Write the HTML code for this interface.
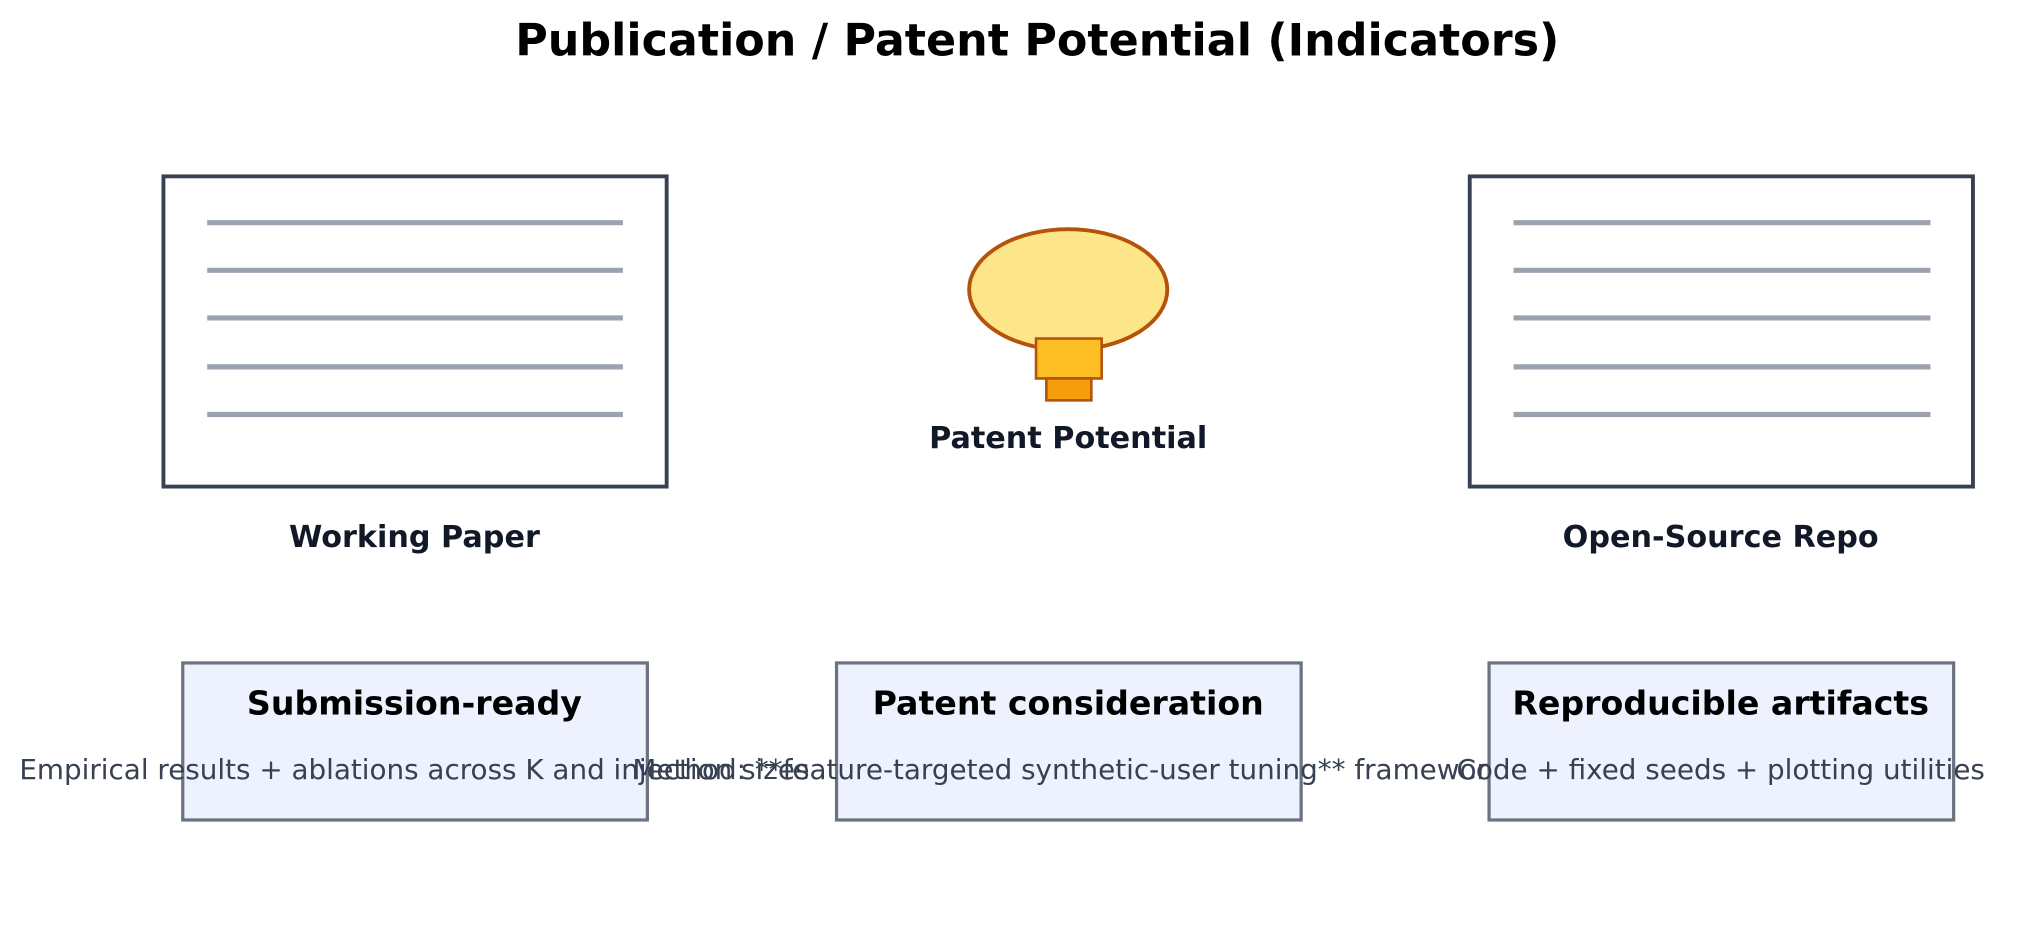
<!DOCTYPE html>
<html><head><meta charset="utf-8"><style>
html,body{margin:0;padding:0;background:#fff;}
svg{display:block;font-family:"DejaVu Sans","Liberation Sans",sans-serif;}
</style></head><body>
<svg width="2018" height="950" viewBox="0 0 1568 738" preserveAspectRatio="none">
<rect width="1568" height="738" fill="#fff"/>
<text x="806" y="43" text-anchor="middle" font-size="34.5" font-weight="bold" fill="#000">Publication / Patent Potential (Indicators)</text>

<g>
<rect x="127" y="137" width="391" height="241" fill="#fff" stroke="#374151" stroke-width="3"/>
<g stroke="#9ca3af" stroke-width="4">
<line x1="161" x2="484" y1="173" y2="173"/><line x1="161" x2="484" y1="210" y2="210"/><line x1="161" x2="484" y1="247" y2="247"/><line x1="161" x2="484" y1="285" y2="285"/><line x1="161" x2="484" y1="322" y2="322"/>
</g></g>
<text x="322" y="425" text-anchor="middle" font-size="23.5" font-weight="bold" fill="#111827">Working Paper</text>

<g>
<rect x="1142" y="137" width="391" height="241" fill="#fff" stroke="#374151" stroke-width="3"/>
<g stroke="#9ca3af" stroke-width="4">
<line x1="1176" x2="1500" y1="173" y2="173"/><line x1="1176" x2="1500" y1="210" y2="210"/><line x1="1176" x2="1500" y1="247" y2="247"/><line x1="1176" x2="1500" y1="285" y2="285"/><line x1="1176" x2="1500" y1="322" y2="322"/>
</g></g>
<text x="1337" y="425" text-anchor="middle" font-size="23.5" font-weight="bold" fill="#111827">Open-Source Repo</text>

<g>
<ellipse cx="830" cy="225" rx="77" ry="47" fill="#fde68a" stroke="#b45309" stroke-width="3"/>
<rect x="805" y="263" width="51" height="31" fill="#fbbf24" stroke="#b45309" stroke-width="2"/>
<rect x="813" y="294" width="35" height="17" fill="#f59e0b" stroke="#b45309" stroke-width="2"/>
</g>
<text x="830" y="348" text-anchor="middle" font-size="23.5" font-weight="bold" fill="#111827">Patent Potential</text>

<g>
<rect x="142" y="515" width="361" height="122" fill="#eef2ff" stroke="#6b7280" stroke-width="2.5"/>
<text x="322" y="555" text-anchor="middle" font-size="25.8" font-weight="bold" fill="#000">Submission-ready</text>
<text x="322" y="605" text-anchor="middle" font-size="21.6" fill="#374151">Empirical results + ablations across K and injection sizes</text>
</g>
<g>
<rect x="650" y="515" width="361" height="122" fill="#eef2ff" stroke="#6b7280" stroke-width="2.5"/>
<text x="830" y="555" text-anchor="middle" font-size="25.8" font-weight="bold" fill="#000">Patent consideration</text>
<text x="830" y="605" text-anchor="middle" font-size="21.6" fill="#374151">Method: **feature-targeted synthetic-user tuning** framework</text>
</g>
<g>
<rect x="1157" y="515" width="361" height="122" fill="#eef2ff" stroke="#6b7280" stroke-width="2.5"/>
<text x="1337" y="555" text-anchor="middle" font-size="25.8" font-weight="bold" fill="#000">Reproducible artifacts</text>
<text x="1337" y="605" text-anchor="middle" font-size="21.6" fill="#374151">Code + fixed seeds + plotting utilities</text>
</g>
</svg>
</body></html>
